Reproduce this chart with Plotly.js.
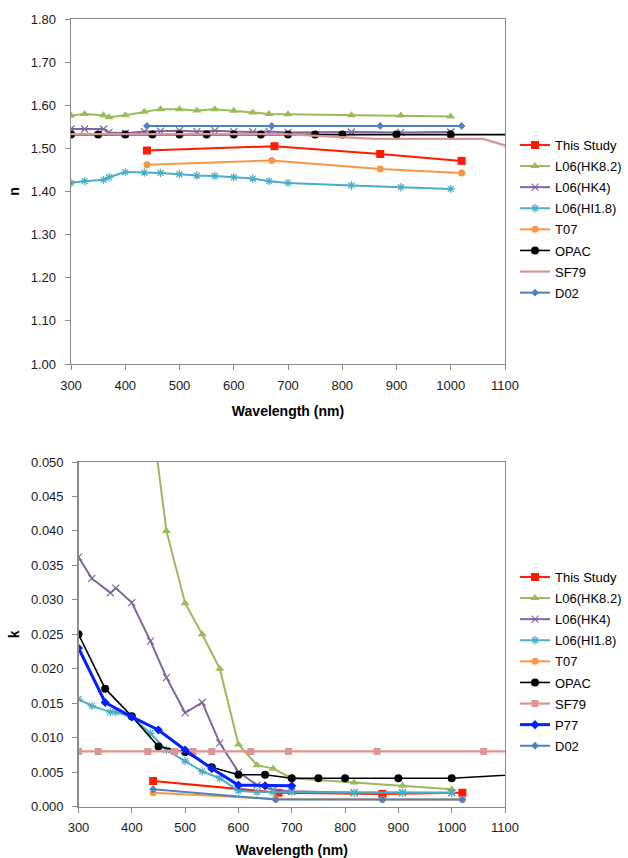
<!DOCTYPE html>
<html>
<head>
<meta charset="utf-8">
<script src="https://cdn.plot.ly/plotly-3.0.1.min.js"></script>
<style>html,body{margin:0;padding:0;background:#fff;}#chart{width:628px;height:858px;}</style>
</head>
<body>
<div id="chart"></div>
<script>
// ---------- data ----------
const seriesNames = ["This Study","L06(HK8.2)","L06(HK4)","L06(HI1.8)","T07","OPAC","SF79","P77","D02"];

const wlL06 = [300,325,360,370,400,435,465,500,532,565,600,635,665,700,817,908,1000];
const wlThis = [440,675,870,1020];
const wlT07 = [440,670,870,1020];
const wlD02 = [440,670,870,1020];
const wlOPAC = [300,350,400,450,500,550,600,650,700,750,800,900,1000,1250];
const wlSF79 = [300,337,430,480,515,550,623,694,860,1060,1300];
const wlP77 = [300,350,400,450,500,550,600,650,700];

// real part n
const nThis = [1.495,1.505,1.487,1.471];
const nHK82 = [1.576,1.580,1.577,1.572,1.577,1.585,1.591,1.591,1.588,1.591,1.587,1.583,1.580,1.579,1.577,1.576,1.574];
const nHK4  = [1.545,1.545,1.545,1.537,1.535,1.539,1.540,1.541,1.539,1.541,1.539,1.538,1.539,1.537,1.538,1.537,1.538];
const nHI18 = [1.420,1.424,1.427,1.433,1.445,1.444,1.443,1.440,1.437,1.436,1.433,1.430,1.424,1.420,1.414,1.410,1.406];
const nT07  = [1.462,1.472,1.452,1.443];
const nOPAC = [1.532,1.532,1.532,1.532,1.532,1.532,1.532,1.532,1.532,1.532,1.532,1.532,1.532,1.532];
const nSF79 = [1.533,1.533,1.533,1.533,1.533,1.533,1.533,1.533,1.522,1.522,1.43];
const nD02  = [1.552,1.552,1.552,1.552];

// imaginary part k
const kThis = [0.0037,0.0020,0.0018,0.0020];
const kHK82 = [0.12,0.11,0.095,0.09,0.08,0.058,0.040,0.0295,0.025,0.020,0.009,0.006,0.0055,0.0041,0.0035,0.0030,0.0025];
const kHK4  = [0.0362,0.0331,0.0310,0.0317,0.0296,0.0240,0.0187,0.0136,0.0151,0.0092,0.0050,0.0031,0.0024,0.0022,0.0020,0.0020,0.0020];
const kHI18 = [0.0156,0.0146,0.0137,0.0137,0.0130,0.0106,0.0082,0.0066,0.0051,0.0041,0.0023,0.0021,0.0021,0.0021,0.0020,0.0020,0.0020];
const kT07  = [0.0020,0.0011,0.0010,0.0010];
const kOPAC = [0.025,0.0171,0.0131,0.0087,0.0079,0.0057,0.0046,0.0046,0.0041,0.0041,0.0041,0.0041,0.0041,0.0052];
const kSF79 = [0.008,0.008,0.008,0.008,0.008,0.008,0.008,0.008,0.008,0.008,0.008];
const kP77  = [0.023,0.0151,0.0130,0.0111,0.0082,0.0055,0.0031,0.0030,0.0030];
const kD02  = [0.0025,0.0010,0.0010,0.0010];

const xTickVals = [300,400,500,600,700,800,900,1000,1100];

// ---------- styles ----------
const colors = {
  "This Study":"#ff1a00","L06(HK8.2)":"#9bbb59","L06(HK4)":"#8064a2","L06(HI1.8)":"#4bacc6",
  "T07":"#f79646","OPAC":"#000000","SF79":"#d99694","P77":"#0022ff","D02":"#4f81bd"
};
const symbols = {
  "This Study":"square","L06(HK8.2)":"triangle-up","L06(HK4)":"x-thin-open","L06(HI1.8)":"asterisk-open",
  "T07":"circle","OPAC":"circle","SF79":"square","P77":"diamond","D02":"diamond"
};
const sizes = {"This Study":8,"L06(HK8.2)":8,"L06(HK4)":7,"L06(HI1.8)":7,"T07":7,"OPAC":8,"SF79":7,"P77":7,"D02":6};
const widths = {"This Study":2,"L06(HK8.2)":2,"L06(HK4)":2,"L06(HI1.8)":2,"T07":2,"OPAC":1.6,"SF79":2.2,"P77":3,"D02":2};

function tr(name, x, y, axisIdx, legendId, showMarkers) {
  const c = colors[name];
  const open = symbols[name].indexOf("open") >= 0;
  return {
    type:"scatter", mode: showMarkers ? "lines+markers" : "lines",
    name:name, x:x, y:y,
    xaxis: axisIdx === 1 ? "x" : "x2", yaxis: axisIdx === 1 ? "y" : "y2",
    legend: legendId, legendgroup: legendId + name,
    line:{color:c, width:widths[name]},
    marker:{symbol:symbols[name], size:sizes[name], color:c,
            line:{color:c, width: open ? 1.2 : 0}},
    cliponaxis:true
  };
}

const data = [
  tr("This Study", wlThis, nThis, 1, "legend", true),
  tr("L06(HK8.2)", wlL06, nHK82, 1, "legend", true),
  tr("L06(HK4)", wlL06, nHK4, 1, "legend", true),
  tr("L06(HI1.8)", wlL06, nHI18, 1, "legend", true),
  tr("T07", wlT07, nT07, 1, "legend", true),
  tr("OPAC", wlOPAC, nOPAC, 1, "legend", true),
  tr("SF79", wlSF79, nSF79, 1, "legend", false),
  tr("D02", wlD02, nD02, 1, "legend", true),

  tr("This Study", wlThis, kThis, 2, "legend2", true),
  tr("L06(HK8.2)", wlL06, kHK82, 2, "legend2", true),
  tr("L06(HK4)", wlL06, kHK4, 2, "legend2", true),
  tr("L06(HI1.8)", wlL06, kHI18, 2, "legend2", true),
  tr("T07", wlT07, kT07, 2, "legend2", true),
  tr("OPAC", wlOPAC, kOPAC, 2, "legend2", true),
  tr("SF79", wlSF79, kSF79, 2, "legend2", true),
  tr("P77", wlP77, kP77, 2, "legend2", true),
  tr("D02", wlD02, kD02, 2, "legend2", true)
];

const W = 628, H = 858;
const axisColor = "#8a8a8a";
const tickFont = {family:"Liberation Sans, Arial, sans-serif", size:13, color:"#1a1a1a"};
const titleFont = {family:"Liberation Sans, Arial, sans-serif", size:14, color:"#000", weight:"bold"};

function xax(domLeft, anchor) {
  return {
    domain:[domLeft/W, 505/W], anchor:anchor, range:[300,1100], tickvals:xTickVals,
    showgrid:false, zeroline:false, showline:true, linecolor:axisColor, linewidth:1.3, mirror:true,
    ticks:"outside", ticklen:5, tickcolor:axisColor, tickfont:tickFont, ticklabelstandoff:4,
    title:{text:"<b>Wavelength (nm)</b>", font:titleFont, standoff:14}
  };
}
function yax(top, bottom, anchor, rng, dt, fmt) {
  return {
    domain:[1 - bottom/H, 1 - top/H], anchor:anchor, range:rng, dtick:dt, tick0:0, tickformat:fmt,
    showgrid:false, zeroline:false, showline:true, linecolor:axisColor, linewidth:1.3, mirror:true,
    ticks:"outside", ticklen:5, tickcolor:axisColor, tickfont:tickFont, ticklabelstandoff:6
  };
}

const legendFont = {family:"Liberation Sans, Arial, sans-serif", size:13, color:"#000"};
const layout = {
  width:W, height:H, margin:{l:0,r:0,t:0,b:0}, paper_bgcolor:"#fff", plot_bgcolor:"#fff",
  showlegend:true,
  xaxis: xax(71, "y"),
  yaxis: Object.assign(yax(19, 364, "x", [1.0,1.8], 0.1, ".2f"), {title:{text:"<b>n</b>", font:titleFont, standoff:8}}),
  xaxis2: xax(78.5, "y2"),
  yaxis2: Object.assign(yax(462, 806.5, "x2", [0,0.05], 0.005, ".3f"), {title:{text:"<b>k</b>", font:titleFont, standoff:8}}),
  legend:{x:515/W, xanchor:"left", y:1-130/H, yanchor:"top",
          bgcolor:"rgba(0,0,0,0)", font:legendFont, tracegroupgap:1.2, itemwidth:30},
  legend2:{x:515/W, xanchor:"left", y:1-562/H, yanchor:"top",
          bgcolor:"rgba(0,0,0,0)", font:legendFont, tracegroupgap:1.2, itemwidth:30}
};

Plotly.newPlot("chart", data, layout, {displayModeBar:false, staticPlot:true});
</script>
</body>
</html>
